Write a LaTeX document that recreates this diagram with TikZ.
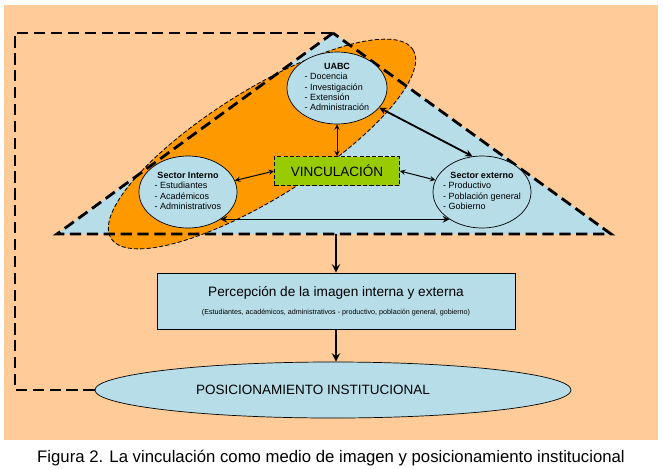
\documentclass[tikz,border=0pt]{standalone}
\usepackage{fontspec}
\setmainfont{Liberation Sans}
\usetikzlibrary{shapes,positioning,calc}

\definecolor{fondo}{HTML}{FFCC99}
\definecolor{celeste}{HTML}{B7DDE8}
\definecolor{naranja}{HTML}{FF9900}
\definecolor{verde}{HTML}{99CC00}

\tikzset{
    sector/.style={ellipse, draw, fill=celeste, line width=0.5pt,
        minimum width=2.45cm, minimum height=1.8cm, inner xsep=-5pt, inner ysep=-2pt,
        font=\fontsize{6.4}{7.4}\selectfont},
    flecha/.style={<->, >=stealth, line width=0.7pt},
    retro/.style={line width=2pt, dash pattern=on 8pt off 4pt},
}

\begin{document}
\begin{tikzpicture}[x=0.025cm, y=-0.025cm]
                    \useasboundingbox (0,0) rectangle (663,468);
                    \fill[fondo] (4,5) rectangle (658,440);

                    % triangle of the three actors
                    \coordinate (vertice) at (333,33);
                    \coordinate (izq) at (57,234);
                    \coordinate (der) at (611,234);
                    \fill[celeste] (vertice) -- (izq) -- (der) -- cycle;

                    \draw[fill=naranja, line width=0.6pt, dash pattern=on 3pt off 1.5pt,
                          rotate around={32:(262,144)}] (262,144) ellipse [x radius=178, y radius=54];

                    \draw[retro] (vertice) -- (izq) -- (der) -- cycle;

                    \node[sector, minimum width=2.5cm] (uabc) at (337,88)
                    {\begin{tabular}{@{}l@{}}\multicolumn{1}{@{}c@{}}{\textbf{UABC}}\\
                     - Docencia\\ - Investigación\\ - Extensión\\ - Administración\end{tabular}};
                    \node[sector] (interno) at (188,192)
                    {\begin{tabular}{@{}l@{}}\multicolumn{1}{@{}c@{}}{\textbf{Sector Interno}}\\
                     - Estudiantes\\ - Académicos\\ - Administrativos\end{tabular}};
                    \node[sector] (externo) at (482,192)
                    {\begin{tabular}{@{}l@{}}\multicolumn{1}{@{}c@{}}{\textbf{Sector externo}}\\
                     - Productivo\\ - Población general\\ - Gobierno\end{tabular}};

                    \node[draw, fill=verde, line width=0.6pt, dash pattern=on 3pt off 1.5pt,
                          minimum width=3.125cm, minimum height=0.725cm,
                          font=\fontsize{9.6}{11}\selectfont] (vinc) at (337,171) {VINCULACIÓN};

                    \draw[flecha] (uabc) -- (vinc);
                    \draw[flecha] (interno) -- (vinc.west);
                    \draw[flecha] (vinc.east) -- (externo);
                    \draw[flecha, line width=1.3pt] (uabc.-25) -- (externo.105);
                    \draw[flecha, line width=1.1pt] (interno.-40) -- (externo.-140);

                    % image and positioning
                    \node[draw, fill=celeste, line width=0.6pt, minimum width=8.95cm,
                          minimum height=1.4cm, align=center] (percep) at (336,301)
                    {{\fontsize{9.7}{11}\selectfont Percepción de la imagen interna y externa}\\[1pt]
                     {\fontsize{5.1}{6}\selectfont (Estudiantes, académicos, administrativos - productivo, población general, gobierno)}};

                    \node[ellipse, draw, fill=celeste, line width=0.5pt, minimum width=11.9cm,
                          minimum height=1.4cm, font=\fontsize{9.6}{11}\selectfont] (posic) at (333,390)
                    {POSICIONAMIENTO INSTITUCIONAL\hspace*{1cm}};

                    \coordinate (base) at (336,234);
                    \draw[->, >=stealth, line width=1.6pt] (base) -- (percep);
                    \draw[->, >=stealth, line width=1.6pt] (percep.south) -- (percep.south |- posic.north);

                    \coordinate (esq1) at (15,390);
                    \coordinate (esq2) at (15,33);
                    \draw[retro] (posic.west) -- (esq1) -- (esq2) -- (vertice);

                    \node[font=\fontsize{11.9}{13}\selectfont] (titulo) at (331,458)
                    {Figura 2. La vinculación como medio de imagen y posicionamiento institucional};
                \end{tikzpicture}
\end{document}
